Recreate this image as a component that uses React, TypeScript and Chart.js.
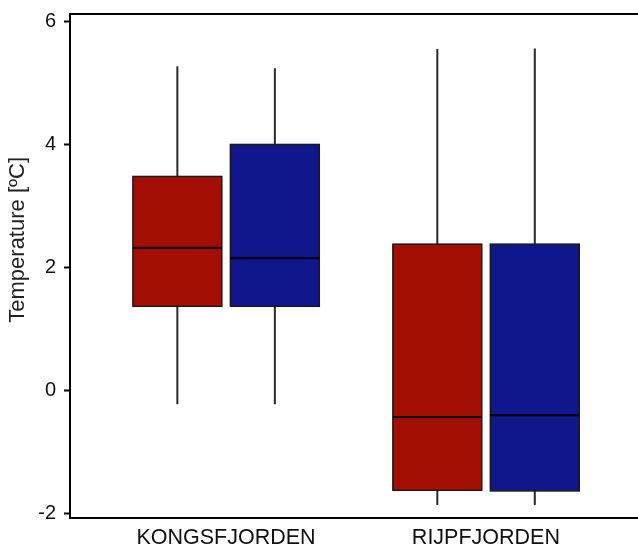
import React, { useEffect, useRef } from 'react';
import { Chart, registerables } from 'chart.js';

Chart.register(...registerables);

const categories = ['KONGSFJORDEN', 'RIJPFJORDEN'];
const yTickValues = [-2, 0, 2, 4, 6];
const yTitle = 'Temperature [ºC]';

// red series (left box in each group)
const redMin = [-0.22, -1.86];
const redQ1 = [1.37, -1.62];
const redMedian = [2.32, -0.43];
const redQ3 = [3.48, 2.38];
const redMax = [5.27, 5.55];

// blue series (right box in each group)
const blueMin = [-0.22, -1.86];
const blueQ1 = [1.37, -1.63];
const blueMedian = [2.15, -0.4];
const blueQ3 = [4.0, 2.38];
const blueMax = [5.24, 5.56];

const FONT = "'Liberation Sans', Arial, Helvetica, sans-serif";

const boxPlugin = {
  id: 'boxPlugin',
  beforeDatasetsDraw(chart: any) {
    const { ctx, chartArea } = chart;
    ctx.save();
    ctx.strokeStyle = '#000';
    ctx.lineWidth = 2;
    ctx.beginPath();
    ctx.moveTo(chartArea.left, chartArea.top);
    ctx.lineTo(chartArea.right, chartArea.top);
    ctx.stroke();
    ctx.restore();
  },
  afterDatasetsDraw(chart: any) {
    const { ctx, scales } = chart;
    const x = scales.x;
    const y = scales.y;
    chart.data.datasets.forEach((ds: any) => {
      const s = ds.stats;
      for (let i = 0; i < categories.length; i++) {
        const cx = x.getPixelForValue(i + 1 + ds.offset);
        const left = x.getPixelForValue(i + 1 + ds.offset - ds.halfWidth);
        const right = x.getPixelForValue(i + 1 + ds.offset + ds.halfWidth);
        const pMin = y.getPixelForValue(s.min[i]);
        const pQ1 = y.getPixelForValue(s.q1[i]);
        const pMed = y.getPixelForValue(s.median[i]);
        const pQ3 = y.getPixelForValue(s.q3[i]);
        const pMax = y.getPixelForValue(s.max[i]);
        ctx.save();
        // whiskers
        ctx.strokeStyle = '#2a2a2a';
        ctx.lineWidth = 2;
        ctx.beginPath();
        ctx.moveTo(cx, pMin);
        ctx.lineTo(cx, pQ1);
        ctx.moveTo(cx, pQ3);
        ctx.lineTo(cx, pMax);
        ctx.stroke();
        // box
        ctx.fillStyle = ds.backgroundColor;
        ctx.fillRect(left, pQ3, right - left, pQ1 - pQ3);
        ctx.strokeStyle = '#1a1a1a';
        ctx.lineWidth = 1.5;
        ctx.strokeRect(left, pQ3, right - left, pQ1 - pQ3);
        // median
        ctx.strokeStyle = '#000';
        ctx.lineWidth = 2;
        ctx.beginPath();
        ctx.moveTo(left, pMed);
        ctx.lineTo(right, pMed);
        ctx.stroke();
        ctx.restore();
      }
    });
    // y title
    ctx.save();
    ctx.fillStyle = '#222';
    ctx.font = `22px ${FONT}`;
    ctx.textAlign = 'center';
    ctx.textBaseline = 'middle';
    ctx.translate(18, y.getPixelForValue(2.45));
    ctx.rotate(-Math.PI / 2);
    ctx.fillText(yTitle, 0, 0);
    ctx.restore();
  },
};

export default function App() {
  const canvasRef = useRef<HTMLCanvasElement | null>(null);

  useEffect(() => {
    if (!canvasRef.current) return;
    const chart = new Chart(canvasRef.current, {
      type: 'scatter',
      data: {
        datasets: [
          {
            label: 'red',
            data: [],
            backgroundColor: '#A20F02',
            offset: -0.187,
            halfWidth: 0.171,
            stats: { min: redMin, q1: redQ1, median: redMedian, q3: redQ3, max: redMax },
          } as any,
          {
            label: 'blue',
            data: [],
            backgroundColor: '#10178C',
            offset: 0.188,
            halfWidth: 0.171,
            stats: { min: blueMin, q1: blueQ1, median: blueMedian, q3: blueQ3, max: blueMax },
          } as any,
        ],
      },
      options: {
        animation: false,
        responsive: false,
        maintainAspectRatio: false,
        layout: { padding: { top: 14, right: 0, left: 0, bottom: 0 } },
        plugins: {
          legend: { display: false },
          tooltip: { enabled: false },
          title: { display: false },
        },
        scales: {
          x: {
            type: 'linear',
            min: 0.4,
            max: 2.585,
            afterBuildTicks: (scale: any) => {
              scale.ticks = categories.map((_, i) => ({ value: i + 1 }));
            },
            afterFit: (scale: any) => {
              scale.height = 30;
              scale.paddingLeft = 0;
              scale.paddingRight = 0;
            },
            grid: { display: false, drawTicks: false },
            border: { display: true, color: '#000', width: 2 },
            ticks: {
              padding: 7,
              color: '#111',
              font: { family: FONT, size: 21.5 },
              maxRotation: 0,
              autoSkip: false,
              callback: (v: any) => categories[Math.round(Number(v)) - 1] ?? '',
            },
          },
          y: {
            type: 'linear',
            min: -2.07,
            max: 6.12,
            afterBuildTicks: (scale: any) => {
              scale.ticks = yTickValues.map((v) => ({ value: v }));
            },
            afterFit: (scale: any) => {
              scale.width = 70;
              scale.paddingTop = 0;
              scale.paddingBottom = 0;
            },
            grid: {
              display: true,
              drawOnChartArea: false,
              drawTicks: true,
              tickLength: 6,
              tickWidth: 2,
              tickColor: '#000',
              color: '#000',
            },
            border: { display: true, color: '#000', width: 2 },
            ticks: {
              padding: 8,
              color: '#111',
              font: { family: FONT, size: 20 },
              callback: (v: any) => String(v),
            },
          },
        },
      } as any,
      plugins: [boxPlugin],
    });
    return () => chart.destroy();
  }, []);

  return (
    <div style={{ position: 'fixed', left: 0, top: 0, width: 638, height: 548, background: '#fff' }}>
      <canvas ref={canvasRef} width={638} height={548} style={{ width: 638, height: 548 }} />
    </div>
  );
}
